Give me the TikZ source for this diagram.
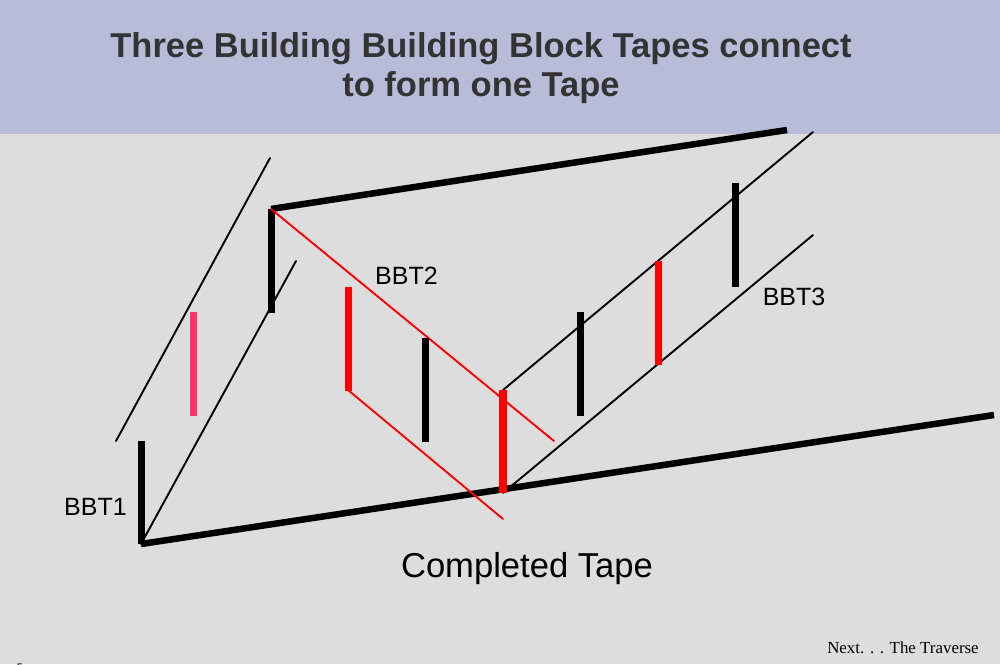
\documentclass[tikz,border=0pt]{standalone}
\usepackage{fontspec}
\setmainfont{Liberation Sans}
\newfontfamily\serifx{Liberation Serif}
\definecolor{bg}{HTML}{DDDDDD}
\definecolor{band}{HTML}{B8BCD8}
\definecolor{ttl}{HTML}{333333}
\definecolor{pinkx}{HTML}{FF3366}
\tikzset{x=1pt,y=-1pt,
 thin line/.style={line width=1.9pt,line cap=round},
 thick line/.style={line width=6.5pt},
 tick/.style={line width=7pt},
 lbl/.style={font=\fontsize{25}{25}\selectfont,text=black,inner sep=0pt}}
\begin{document}
\begin{tikzpicture}
\useasboundingbox (0,0) rectangle (1000,664);
\fill[bg] (0,0) rectangle (1000,664);
\fill[band] (0,0) rectangle (1000,134);
\node[name=title,align=center,font=\bfseries\fontsize{34.5}{39.3}\selectfont,text=ttl,inner sep=0pt] at (481,68) {Three Building Building Block Tapes connect\\to form one Tape};
% coordinates
\coordinate (a1) at (141,544); \coordinate (a2) at (141,441);
\coordinate (b1) at (271,209); \coordinate (b2) at (271,313);
\coordinate (c1) at (503,390); \coordinate (c2) at (503,493);
\draw[thin line,black] (116,441) -- (270,158);
\draw[thin line,black] (a1) -- (296,261);
\draw[thin line,black] (c1) -- (813,132);
\draw[thin line,black] (c2) -- (813,235);
\draw[tick,black] (a1) -- (a2);
\draw[tick,black] (b1) -- (b2);
\draw[thick line,black] (b1) -- (787,130);
\draw[thick line,black] (a1) -- (994,415);
\draw[thin line,red] (b1) -- (554,441);
\draw[thin line,red] (348,390) -- (503,519);
\draw[tick,pinkx] (193,312) -- (193,416);
\draw[tick,red] (348,287) -- (348,391);
\draw[tick,black] (425,338) -- (425,442);
\draw[line width=7.7pt,red] (c1) -- (c2);
\draw[tick,black] (580,312) -- (580,416);
\draw[tick,red] (658,261) -- (658,365);
\draw[tick,black] (735,183) -- (735,287);
\node[lbl,anchor=center] (l1) at (95.5,507) {BBT1};
\node[lbl,anchor=center] (l2) at (406.5,276) {BBT2};
\node[lbl,anchor=center] (l3) at (794,297) {BBT3};
\node[font=\fontsize{34.6}{34.6}\selectfont,inner sep=0pt] (l4) at (527,568.5) {Completed Tape};
\node[font=\serifx\fontsize{16.9}{16.9}\selectfont,inner sep=0pt] (l5) at (903,648) {Next. . . The Traverse};
\node[font=\fontsize{11}{11}\selectfont,inner sep=0pt,anchor=north] (l6) at (20,664) {5};
\end{tikzpicture}
\end{document}
